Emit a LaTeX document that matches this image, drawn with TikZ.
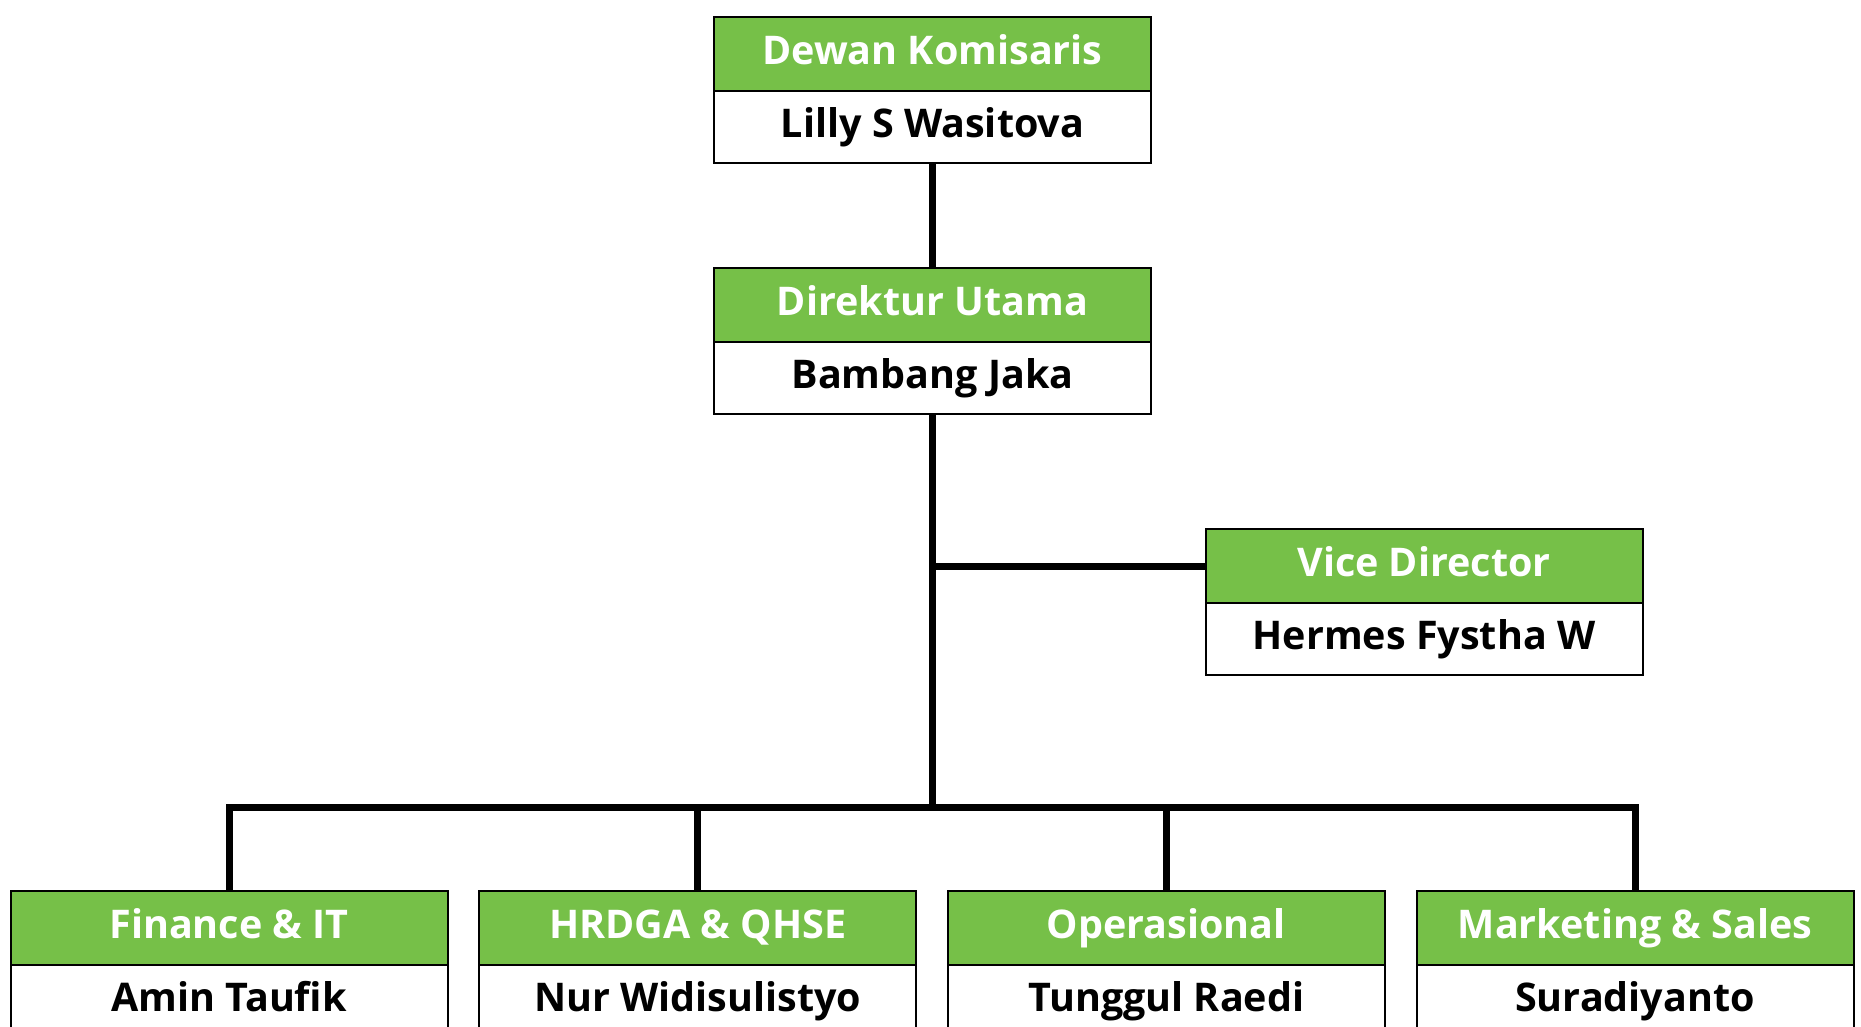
\documentclass[tikz,border=0pt]{standalone}
\usepackage{fontspec}
\setmainfont{Open Sans}
\usepackage{xcolor}
\usetikzlibrary{positioning}
\definecolor{headgreen}{RGB}{118,192,72}

\begin{document}
\begin{tikzpicture}[x=1pt, y=-1pt,
    head/.style={draw=black, line width=2pt, fill=headgreen, text=white,
        minimum width=437pt, minimum height=74pt, inner sep=0pt, outer sep=0pt,
        text height=28pt, text depth=8pt,
        font=\fontsize{39.5}{42}\selectfont\bfseries},
    body/.style={draw=black, line width=2pt, fill=white, text=black,
        minimum width=437pt, minimum height=72pt, inner sep=0pt, outer sep=0pt,
        text height=28pt, text depth=8pt,
        font=\fontsize{39.5}{42}\selectfont\bfseries},
    conn/.style={line width=7pt}]
    \useasboundingbox (0,0) rectangle (1861,1026);
    \clip (0,0) rectangle (1861,1026);

    % Dewan Komisaris
    \node[head] (komHead) at (932.5,54) {Dewan Komisaris};
    \node[body, below=0pt of komHead] (komName) {Lilly S Wasitova};

    % Direktur Utama
    \node[head] (dirHead) at (932.5,305) {Direktur Utama};
    \node[body, below=0pt of dirHead] (dirName) {Bambang Jaka};

    % Vice Director
    \node[head] (viceHead) at (1424,566) {Vice Director};
    \node[body, below=0pt of viceHead] (viceName) {Hermes Fystha W};

    % Departments
    \node[head] (finHead) at (229,928) {Finance \& IT};
    \node[body, below=0pt of finHead] (finName) {Amin Taufik};
    \node[head] (hrdHead) at (697.7,928) {HRDGA \& QHSE};
    \node[body, below=0pt of hrdHead] (hrdName) {Nur Widisulistyo};
    \node[head] (opsHead) at (1166.3,928) {Operasional};
    \node[body, below=0pt of opsHead] (opsName) {Tunggul Raedi};
    \node[head] (mktHead) at (1635,928) {Marketing \& Sales};
    \node[body, below=0pt of mktHead] (mktName) {Suradiyanto};

    % Connectors
    \coordinate (bus) at (932.5,807);
    \coordinate (viceJoin) at (932.5,566);
    \draw[conn] (komName.south) -- (dirHead.north);
    \draw[conn] (dirName.south) -- (bus);
    \draw[conn] (viceJoin) -- (viceHead.west);
    \draw[conn] (finHead.north) |- (bus) -| (mktHead.north);
    \draw[conn] (hrdHead.north) -- (hrdHead.north |- bus);
    \draw[conn] (opsHead.north) -- (opsHead.north |- bus);
\end{tikzpicture}
\end{document}
